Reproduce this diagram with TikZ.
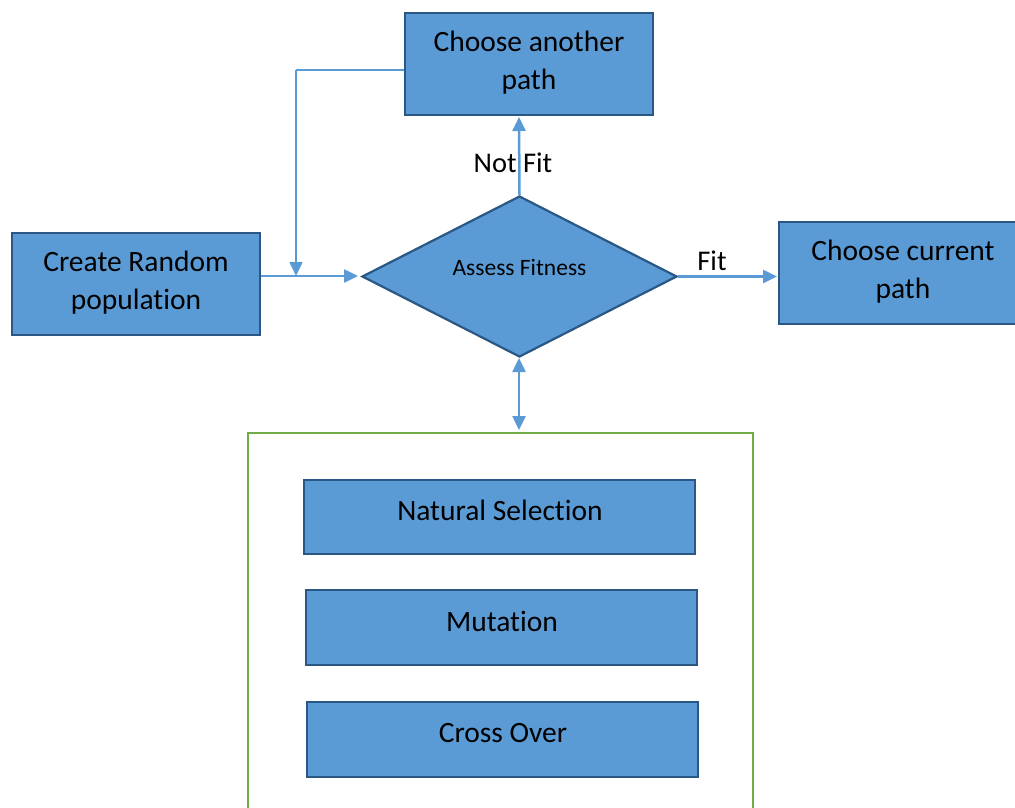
\documentclass[tikz,border=0pt]{standalone}
\usepackage{fontspec}
\setmainfont{Carlito}[Ligatures=NoCommon]
\usetikzlibrary{arrows.meta,shapes.geometric}
\definecolor{boxfill}{HTML}{5B9BD5}
\definecolor{boxline}{HTML}{2A5783}
\definecolor{conn}{HTML}{5B9BD5}
\definecolor{grn}{HTML}{70AD47}
\tikzset{
  box/.style={draw=boxline, fill=boxfill, line width=2.2pt, inner sep=0pt},
  txt/.style={font=\fontsize{29.5}{38}\selectfont, text=black, align=center, inner sep=0pt},
  lbl/.style={font=\fontsize{28.5}{32}\selectfont, text=black, inner sep=0pt},
  conn/.style={draw=conn, line width=2.5pt, -{Triangle[length=14pt,width=13pt]}},
  thin/.style={draw=conn, line width=1.6pt}
}
\begin{document}
\begin{tikzpicture}[x=1pt,y=-1pt]
\useasboundingbox (0,0) rectangle (1015,808);
% green container
\draw[grn, line width=2.5pt] (248,815) -- (248,433) -- (753,433) -- (753,815);
% boxes
\node[box, minimum width=248pt, minimum height=102pt] (another) at (529,64) {};
\node[txt] at (529,63) {Choose another\\path};
\node[box, minimum width=248pt, minimum height=102pt] (create) at (136,284) {};
\node[txt] at (136,283) {Create Random\\population};
\node[box, minimum width=240pt, minimum height=102pt] (current) at (899,273) {};
\node[txt] at (903,272) {Choose current\\path};
\node[box, diamond, minimum width=315pt, minimum height=161pt, aspect=1.96] (assess) at (519.5,276.5) {};
\node[txt, font=\fontsize{23.5}{28}\selectfont] at (519.5,268) {Assess Fitness};
\node[box, minimum width=391pt, minimum height=74pt] (ns) at (499.5,517) {};
\node[txt] at (500,510) {Natural Selection};
\node[box, minimum width=391pt, minimum height=75pt] (mut) at (501.5,627.5) {};
\node[txt] at (502,621) {Mutation};
\node[box, minimum width=391pt, minimum height=75pt] (co) at (502.5,739.5) {};
\node[txt] at (503,733) {Cross Over};
% connectors
\coordinate (join) at (296,276);
\coordinate (corner) at (296,70);
\draw[conn] (create.east |- 0,276) -- (358,276);
\draw[thin] (another.west |- 0,70) -- (corner);
\draw[conn, line width=1.6pt] (corner) -- (join);
\draw[conn] (assess.north) -- (519,117);
\node[lbl] (notfit) at (513,163) {Not Fit};
\draw[conn] (assess.east) -- (777,276.5);
\node[lbl] (fit) at (712,261) {Fit};
\draw[draw=conn, line width=2.5pt, {Triangle[length=14pt,width=13pt]}-{Triangle[length=14pt,width=13pt]}] (519,358) -- (519,430);
\end{tikzpicture}
\end{document}
